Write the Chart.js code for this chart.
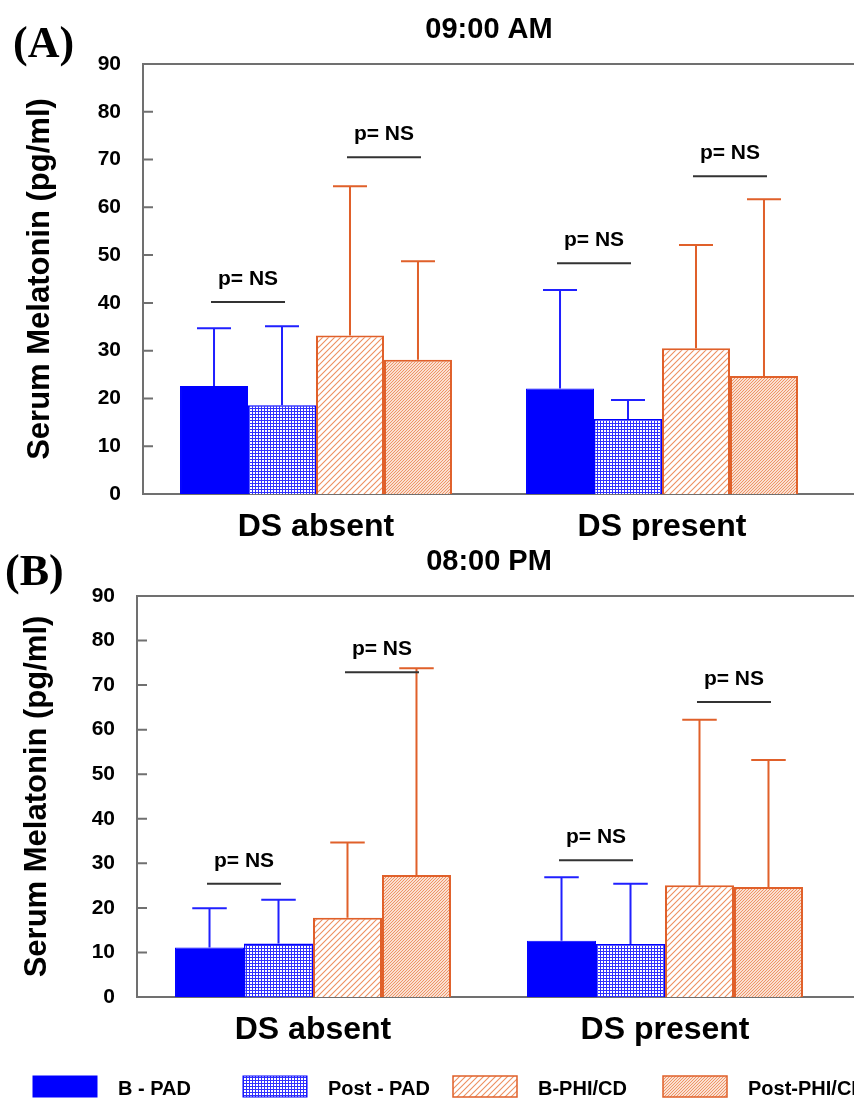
<!DOCTYPE html>
<html>
<head>
<meta charset="utf-8">
<script src="https://cdn.jsdelivr.net/npm/chart.js@4.4.0/dist/chart.umd.min.js"></script>
<style>
  html, body { margin: 0; padding: 0; background: #fff; }
  #wrap { position: relative; width: 854px; height: 1100px; overflow: hidden; }
  canvas { position: absolute; left: 0; }
</style>
</head>
<body>
<div id="wrap">
  <canvas id="chartA" width="854" height="540" style="top:0"></canvas>
  <canvas id="chartB" width="854" height="560" style="top:540px"></canvas>
</div>
<script>
var groups = ["DS absent", "DS present"];
var seriesNames = ["B - PAD", "Post - PAD", "B-PHI/CD", "Post-PHI/CD"];
var yMin = 0, yMax = 90, yStep = 10;

// (A) 09:00 AM
var amBPad = [22.6, 22.1];
var amPostPad = [18.6, 15.7];
var amBPhi = [33.2, 30.5];
var amPostPhi = [28.1, 24.7];
var amBPadErr = [34.7, 42.7];
var amPostPadErr = [35.1, 19.7];
var amBPhiErr = [64.4, 52.1];
var amPostPhiErr = [48.7, 61.7];
var amNsLevels = [40.2, 70.5, 48.3, 66.5];

// (B) 08:00 PM
var pmBPad = [11.1, 12.6];
var pmPostPad = [12.0, 11.9];
var pmBPhi = [17.8, 25.1];
var pmPostPhi = [27.4, 24.7];
var pmBPadErr = [19.9, 26.9];
var pmPostPadErr = [21.8, 25.4];
var pmBPhiErr = [34.7, 62.2];
var pmPostPhiErr = [73.8, 53.2];
var pmNsLevels = [25.4, 72.9, 30.7, 66.2];

// which group / first bar of the pair each "p= NS" bracket sits over
var nsGroup = [0, 0, 1, 1];
var nsFirst = [0, 2, 0, 2];

var BLUE = "#0000ff";
var ORANGE = "#e0602a";
Chart.defaults.font.family = "'Liberation Sans', Arial, sans-serif";
Chart.defaults.color = "#000";

function gridPattern(ctx) {
  var c = document.createElement("canvas");
  c.width = 3; c.height = 3;
  var g = c.getContext("2d");
  g.fillStyle = "#fff"; g.fillRect(0, 0, 3, 3);
  g.fillStyle = "#3030ff";
  g.fillRect(0, 0, 3, 1); g.fillRect(0, 0, 1, 3);
  return ctx.createPattern(c, "repeat");
}

function hatchPattern(ctx, step, color) {
  var c = document.createElement("canvas");
  c.width = step; c.height = step;
  var g = c.getContext("2d");
  g.fillStyle = "#fff"; g.fillRect(0, 0, step, step);
  g.strokeStyle = color; g.lineWidth = 1.1;
  g.beginPath();
  g.moveTo(-1, step + 1); g.lineTo(step + 1, -1);
  g.moveTo(-1, 1); g.lineTo(1, -1);
  g.moveTo(step - 1, step + 1); g.lineTo(step + 1, step - 1);
  g.stroke();
  return ctx.createPattern(c, "repeat");
}

function makeDatasets(ctx, vals, errs) {
  return [
    { label: seriesNames[0], data: vals[0], errTop: errs[0], backgroundColor: BLUE, borderColor: BLUE, borderWidth: 1 },
    { label: seriesNames[1], data: vals[1], errTop: errs[1], backgroundColor: gridPattern(ctx), borderColor: BLUE, borderWidth: 1.5 },
    { label: seriesNames[2], data: vals[2], errTop: errs[2], backgroundColor: hatchPattern(ctx, 6, "#ee9060"), borderColor: ORANGE, borderWidth: 2 },
    { label: seriesNames[3], data: vals[3], errTop: errs[3], backgroundColor: hatchPattern(ctx, 3, "#ee9060"), borderColor: ORANGE, borderWidth: 2 }
  ];
}

var framePlugin = {
  id: "frame",
  beforeDatasetsDraw: function(chart) {
    var a = chart.chartArea, ctx = chart.ctx, y = chart.scales.y;
    ctx.save();
    ctx.strokeStyle = "#707070";
    ctx.lineWidth = 2;
    ctx.beginPath();
    ctx.moveTo(a.left, a.top); ctx.lineTo(chart.width, a.top);
    ctx.moveTo(a.left, a.bottom); ctx.lineTo(chart.width, a.bottom);
    ctx.moveTo(a.left, a.top - 1); ctx.lineTo(a.left, a.bottom + 1);
    y.ticks.forEach(function(t) {
      var py = y.getPixelForValue(t.value);
      ctx.moveTo(a.left, py); ctx.lineTo(a.left + 10, py);
    });
    ctx.stroke();
    ctx.restore();
  }
};

var errorBarsPlugin = {
  id: "errorBars",
  afterDatasetsDraw: function(chart) {
    var ctx = chart.ctx, y = chart.scales.y;
    chart.data.datasets.forEach(function(ds, i) {
      chart.getDatasetMeta(i).data.forEach(function(bar, j) {
        var top = y.getPixelForValue(ds.errTop[j]);
        var half = bar.width / 4;
        ctx.save();
        ctx.strokeStyle = ds.borderColor === BLUE ? "#2020ff" : ORANGE;
        ctx.lineWidth = 2;
        ctx.beginPath();
        ctx.moveTo(bar.x, bar.y); ctx.lineTo(bar.x, top);
        ctx.moveTo(bar.x - half, top); ctx.lineTo(bar.x + half, top);
        ctx.stroke();
        ctx.restore();
      });
    });
  }
};

var nsPlugin = {
  id: "nsMarks",
  afterDatasetsDraw: function(chart, args, opts) {
    var ctx = chart.ctx, y = chart.scales.y;
    opts.levels.forEach(function(v, k) {
      var b1 = chart.getDatasetMeta(nsFirst[k]).data[nsGroup[k]];
      var b2 = chart.getDatasetMeta(nsFirst[k] + 1).data[nsGroup[k]];
      var mid = (b1.x + b2.x) / 2;
      var py = y.getPixelForValue(v);
      ctx.save();
      ctx.strokeStyle = "#333";
      ctx.lineWidth = 2;
      ctx.beginPath();
      ctx.moveTo(mid - 37, py); ctx.lineTo(mid + 37, py);
      ctx.stroke();
      ctx.fillStyle = "#000";
      ctx.font = "bold 21px 'Liberation Sans', Arial, sans-serif";
      ctx.textAlign = "center";
      ctx.textBaseline = "middle";
      ctx.fillText("p= NS", mid, py - 23);
      ctx.restore();
    });
  }
};

var panelLabelPlugin = {
  id: "panelLabel",
  afterDraw: function(chart, args, opts) {
    var ctx = chart.ctx;
    ctx.save();
    ctx.fillStyle = "#000";
    ctx.font = "bold 44px 'Liberation Serif', 'Times New Roman', serif";
    ctx.textAlign = "left";
    ctx.textBaseline = "alphabetic";
    ctx.fillText(opts.text, opts.x, opts.y);
    ctx.restore();
  }
};

var legendPlugin = {
  id: "boxLegend",
  afterDraw: function(chart, args, opts) {
    if (!opts.show) return;
    var ctx = chart.ctx;
    chart.data.datasets.forEach(function(ds, i) {
      var x = 33 + i * 210;
      ctx.save();
      ctx.fillStyle = ds.backgroundColor;
      ctx.fillRect(x, opts.top, 64, 21);
      ctx.strokeStyle = ds.borderColor;
      ctx.lineWidth = ds.borderColor === BLUE ? 1 : 1.5;
      ctx.strokeRect(x, opts.top, 64, 21);
      ctx.fillStyle = "#000";
      ctx.font = "bold 20px 'Liberation Sans', Arial, sans-serif";
      ctx.textAlign = "left";
      ctx.textBaseline = "middle";
      ctx.fillText(ds.label, x + 85, opts.top + 13);
      ctx.restore();
    });
  }
};

function buildChart(id, title, vals, errs, ns, cfg) {
  var ctx = document.getElementById(id).getContext("2d");
  return new Chart(ctx, {
    type: "bar",
    data: { labels: groups, datasets: makeDatasets(ctx, vals, errs) },
    options: {
      responsive: false,
      animation: false,
      layout: { padding: { left: 0, right: cfg.padRight, top: 0, bottom: 0 } },
      datasets: { bar: { barPercentage: 1, categoryPercentage: cfg.catPct } },
      plugins: {
        legend: { display: false },
        tooltip: { enabled: false },
        title: {
          display: true,
          text: title,
          fullSize: false,
          color: "#000",
          font: { size: 29, weight: "bold" },
          padding: { top: cfg.titleTop, bottom: cfg.titleBottom }
        },
        nsMarks: { levels: ns },
        panelLabel: cfg.panel,
        boxLegend: { show: cfg.legend, top: 536 }
      },
      scales: {
        x: {
          grid: { display: false, drawTicks: false },
          border: { display: false },
          ticks: { font: { size: 32, weight: "bold" }, color: "#000", padding: 14 },
          afterFit: function(s) { s.height = cfg.xHeight; }
        },
        y: {
          min: yMin,
          max: yMax,
          grid: { display: false, drawTicks: false },
          border: { display: false },
          ticks: { stepSize: yStep, font: { size: 21, weight: "bold" }, color: "#000", padding: 22 },
          title: {
            display: true,
            text: "Serum Melatonin (pg/ml)",
            color: "#000",
            font: { size: 31, weight: "bold" },
            padding: { top: cfg.yTitlePad, bottom: 0 }
          },
          afterFit: function(s) { s.width = cfg.yWidth; }
        }
      }
    },
    plugins: [framePlugin, errorBarsPlugin, nsPlugin, panelLabelPlugin, legendPlugin]
  });
}

buildChart("chartA", "09:00 AM",
  [amBPad, amPostPad, amBPhi, amPostPhi],
  [amBPadErr, amPostPadErr, amBPhiErr, amPostPhiErr],
  amNsLevels,
  { padRight: 19, catPct: 0.786, titleTop: 12.6, titleBottom: 16.6, xHeight: 46,
    yWidth: 143, yTitlePad: 21.4, panel: { text: "(A)", x: 13, y: 57 }, legend: false });

buildChart("chartB", "08:00 PM",
  [pmBPad, pmPostPad, pmBPhi, pmPostPhi],
  [pmBPadErr, pmPostPadErr, pmBPhiErr, pmPostPhiErr],
  pmNsLevels,
  { padRight: 13, catPct: 0.784, titleTop: 4.6, titleBottom: 16.6, xHeight: 103,
    yWidth: 137, yTitlePad: 18.4, panel: { text: "(B)", x: 5, y: 45 }, legend: true });
</script>
</body>
</html>
